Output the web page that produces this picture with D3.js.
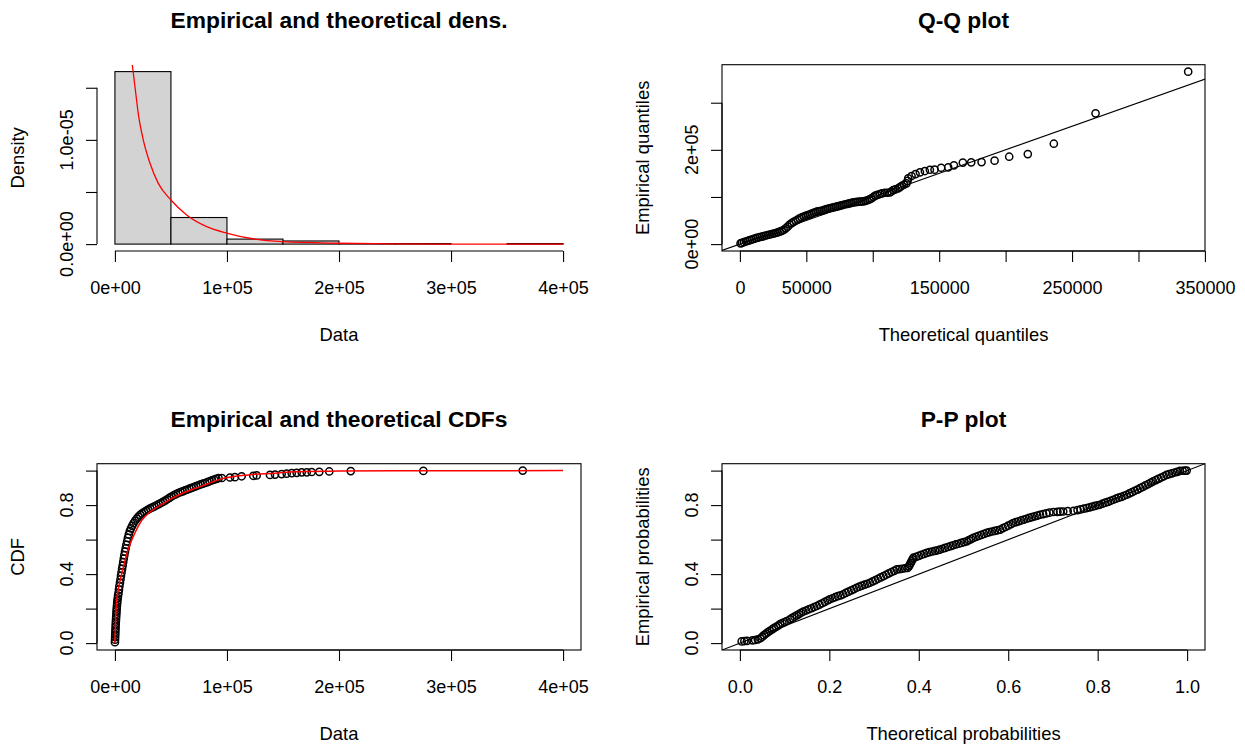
<!DOCTYPE html>
<html>
<head>
<meta charset="utf-8">
<script src="https://cdn.jsdelivr.net/npm/d3@7"></script>
<style>
  body { margin: 0; background: #fff; }
  svg text { font-family: "Liberation Sans", Arial, Helvetica, sans-serif; fill: #000; }
</style>
</head>
<body>
<div id="chart"></div>
<script>
// ---- data ----

// histogram, density scale
const histBreaks = [0, 50000, 100000, 150000, 200000, 250000, 300000, 350000, 400000];
const histDensity = [1.655e-5, 2.55e-6, 4.8e-7, 3.0e-7, 5e-8, 5e-8, 0, 5e-8];

// fitted density (red curve)
const densX = [15500, 17900, 20800, 25300, 31300, 38700, 50000, 64000, 81900, 100600, 120500, 149400, 200000, 250000, 300000, 400000];
const densY = [1.72e-5, 1.51e-5, 1.255e-5, 9.99e-6, 7.75e-6, 5.83e-6, 4.23e-6, 2.79e-6, 1.67e-6, 1.04e-6, 5.6e-7, 2.3e-7, 8e-8, 2e-8, 0, 0];

// Q-Q plot: [theoretical quantile, empirical quantile]
const qqPoints = [
  [500,1500],[1500,2500],[3000,4000],[4500,5500],[6000,7000],[7500,8300],[9000,9700],[10500,11000],
  [12000,12500],[13500,13800],[15000,15000],[16500,15900],[18000,17000],[19500,18200],[21000,19300],
  [22500,20400],[24000,21400],[25500,22400],[27000,23600],[28500,25000],[30000,26500],[31500,28200],
  [33000,30000],[34500,33500],[36000,37000],[37500,41500],[39000,44500],[40500,47000],[42000,49500],
  [43500,52000],[45000,54500],[46500,56500],[48000,58500],[49500,60000],[51000,61500],[52500,62500],
  [54000,64500],[55500,66500],[57000,68000],[58500,69300],[60000,70000],[61500,70700],[63000,72000],
  [64500,73500],[66000,75000],[67500,76000],[69000,77000],[70500,78000],[72000,79000],[73500,80000],
  [75000,81000],[76500,82200],[78000,83500],[79500,84500],[81000,85500],[82500,86300],[84000,87300],
  [85500,88500],[87000,89200],[88500,89600],[90000,90000],[91500,90300],[93000,90800],[94500,91800],
  [96000,93000],[97500,95000],[99000,97000],[100500,100000],[102000,103000],[103500,104500],
  [105400,106200],[107000,107500],[109100,108900],[111000,109000],[112900,109500],[114000,111500],
  [115400,114600],[117000,116000],[119100,118300],[120500,121000],[121900,123800],[123500,126000],
  [125400,128900],[126200,134000],[126700,139500],[129200,144400],[132200,148600],[135500,152200],
  [139200,155000],[143000,157700],[146500,158000],[151500,162000],[156800,162800],[161100,167100],
  [167800,173000],[174100,173500],[181900,174000],[191700,177000],[202700,185400],[216700,191000],
  [236300,213000],[267700,277500],[337400,365800]
];

// empirical CDF points: [data, cumulative probability]
const cdfPoints = [
  [0,0.005],[100,0.02],[200,0.035],[300,0.05],[400,0.065],[500,0.08],[600,0.095],[700,0.11],[850,0.125],
  [1000,0.14],[1150,0.155],[1300,0.17],[1450,0.185],[1600,0.2],[1800,0.215],[2000,0.23],[2200,0.245],
  [2500,0.26],[2800,0.275],[3200,0.29],[3600,0.31],[4000,0.33],[4500,0.35],[5000,0.37],[5400,0.39],
  [5900,0.41],[6400,0.43],[6900,0.45],[7400,0.47],[7900,0.49],[8400,0.51],[9000,0.53],[9600,0.55],
  [10200,0.57],[10900,0.59],[11600,0.61],[12400,0.63],[13300,0.65],[14300,0.665],[15400,0.68],
  [16600,0.695],[18000,0.709],[19500,0.722],[21000,0.733],[22600,0.743],[24300,0.752],[26000,0.76],
  [27800,0.767],[29600,0.774],[31500,0.781],[33400,0.787],[35300,0.793],[37200,0.799],[39100,0.806],
  [41000,0.812],[42900,0.819],[44800,0.826],[46700,0.834],[48600,0.842],[50500,0.85],[52500,0.857],
  [54500,0.864],[56500,0.87],[58500,0.875],[60500,0.88],[62500,0.885],[64500,0.89],[66500,0.895],
  [68500,0.9],[70500,0.905],[72500,0.91],[74500,0.915],[76500,0.92],[78500,0.924],[80500,0.928],
  [82500,0.933],[84500,0.938],[86500,0.943],[88500,0.948],[90500,0.952],[92500,0.956],[95500,0.957],
  [102700,0.96],[107100,0.962],[113100,0.967],[123500,0.97],[126500,0.972],[138400,0.975],[142900,0.977],
  [148800,0.98],[153300,0.982],[157800,0.985],[162200,0.987],[166700,0.99],[171200,0.99],[175600,0.992],
  [182400,0.993],[191300,0.995],[210500,0.997],[275300,0.998],[364000,1.0]
];

// fitted CDF (red curve)
const cdfFitX = [0, 500, 1500, 3000, 4500, 7400, 11900, 17900, 23800, 31300, 41700, 50000, 59500, 77400, 95200, 119000, 142900, 160700, 200000, 250000, 400000];
const cdfFitP = [0, 0.12, 0.244, 0.31, 0.36, 0.437, 0.545, 0.64, 0.71, 0.76, 0.803, 0.836, 0.866, 0.91, 0.952, 0.975, 0.985, 0.994, 0.997, 0.999, 1.0];

// P-P plot: [theoretical probability, empirical probability]
const ppPoints = [
  [0.004,0.010],[0.010,0.012],[0.016,0.013],[0.028,0.016],[0.034,0.018],[0.040,0.022],[0.046,0.028],
  [0.050,0.037],[0.054,0.046],[0.058,0.054],[0.062,0.062],[0.067,0.071],[0.072,0.079],[0.076,0.087],
  [0.081,0.094],[0.086,0.102],[0.090,0.110],[0.095,0.116],[0.100,0.122],[0.105,0.128],[0.112,0.138],
  [0.117,0.146],[0.122,0.153],[0.127,0.161],[0.132,0.168],[0.137,0.176],[0.142,0.183],[0.148,0.189],
  [0.154,0.196],[0.160,0.202],[0.166,0.209],[0.172,0.215],[0.178,0.223],[0.184,0.231],[0.190,0.239],
  [0.196,0.247],[0.201,0.254],[0.207,0.260],[0.213,0.266],[0.219,0.272],[0.225,0.277],[0.231,0.283],
  [0.237,0.291],[0.243,0.298],[0.249,0.306],[0.255,0.313],[0.261,0.321],[0.267,0.327],[0.273,0.333],
  [0.279,0.339],[0.285,0.344],[0.291,0.350],[0.297,0.358],[0.303,0.365],[0.309,0.373],[0.315,0.381],
  [0.321,0.388],[0.327,0.396],[0.333,0.404],[0.339,0.412],[0.345,0.419],[0.351,0.427],[0.357,0.429],
  [0.363,0.431],[0.369,0.434],[0.375,0.436],[0.378,0.445],[0.380,0.455],[0.382,0.465],[0.384,0.475],
  [0.386,0.485],[0.388,0.495],[0.394,0.500],[0.400,0.506],[0.406,0.512],[0.412,0.517],[0.418,0.523],
  [0.424,0.527],[0.430,0.531],[0.436,0.535],[0.442,0.538],[0.447,0.542],[0.453,0.547],[0.459,0.552],
  [0.465,0.557],[0.471,0.562],[0.477,0.567],[0.483,0.572],[0.489,0.576],[0.495,0.581],[0.501,0.585],
  [0.507,0.590],[0.512,0.597],[0.517,0.603],[0.522,0.610],[0.528,0.616],[0.534,0.622],[0.540,0.627],
  [0.546,0.633],[0.552,0.639],[0.558,0.643],[0.564,0.647],[0.570,0.651],[0.576,0.654],[0.582,0.658],
  [0.588,0.666],[0.594,0.673],[0.600,0.681],[0.606,0.689],[0.611,0.696],[0.617,0.701],[0.623,0.706],
  [0.629,0.711],[0.635,0.716],[0.641,0.721],[0.647,0.726],[0.653,0.730],[0.659,0.735],[0.665,0.739],
  [0.671,0.744],[0.678,0.748],[0.685,0.752],[0.692,0.756],[0.701,0.760],[0.710,0.761],[0.716,0.762],
  [0.723,0.763],[0.733,0.765],[0.746,0.767],[0.755,0.771],[0.762,0.775],[0.769,0.779],[0.776,0.783],
  [0.782,0.787],[0.788,0.791],[0.794,0.795],[0.800,0.799],[0.805,0.802],[0.811,0.808],[0.817,0.814],
  [0.823,0.819],[0.829,0.825],[0.835,0.831],[0.841,0.837],[0.847,0.843],[0.853,0.848],[0.859,0.854],
  [0.865,0.860],[0.871,0.868],[0.877,0.875],[0.883,0.883],[0.889,0.890],[0.895,0.898],[0.901,0.906],
  [0.907,0.914],[0.913,0.922],[0.919,0.930],[0.924,0.937],[0.930,0.945],[0.936,0.952],[0.942,0.960],
  [0.948,0.967],[0.954,0.975],[0.960,0.980],[0.966,0.984],[0.972,0.989],[0.978,0.993],[0.984,0.998],
  [0.990,0.999],[0.995,0.9995],[0.999,1.0]
];

// axis ticks and labels (empty label = R dropped it for overlap)
const dataTicks = [0, 100000, 200000, 300000, 400000];
const dataLabels = ['0e+00', '1e+05', '2e+05', '3e+05', '4e+05'];
const densTicks = [0, 5e-6, 1e-5, 1.5e-5];
const densLabels = ['0.0e+00', '', '1.0e-05', ''];
const qqXTicks = [0, 50000, 100000, 150000, 200000, 250000, 300000, 350000];
const qqXLabels = ['0', '50000', '', '150000', '', '250000', '', '350000'];
const qqYTicks = [0, 100000, 200000, 300000];
const qqYLabels = ['0e+00', '', '2e+05', ''];
const probTicks = [0, 0.2, 0.4, 0.6, 0.8, 1.0];
const probLabelsY = ['0.0', '', '0.4', '', '0.8', ''];
const probLabelsX = ['0.0', '0.2', '0.4', '0.6', '0.8', '1.0'];

// ---- drawing ----
const width = 1245, height = 745;
const svg = d3.select('#chart').append('svg')
  .attr('width', width)
  .attr('height', height);

// R extends axis ranges by 4% on each side
function pad4(lo, hi) {
  let r = hi - lo;
  return [lo - 0.04 * r, hi + 0.04 * r];
}

let clipCount = 0;
function makePanel(o) {
  let x = d3.scaleLinear().domain(o.xDom).range([o.left, o.right]);
  let y = d3.scaleLinear().domain(o.yDom).range([o.bottom, o.top]);
  let g = svg.append('g');

  let id = 'clip' + (clipCount++);
  svg.append('clipPath').attr('id', id).append('rect')
    .attr('x', o.left).attr('y', o.top)
    .attr('width', o.right - o.left).attr('height', o.bottom - o.top);
  let plot = g.append('g').attr('clip-path', 'url(#' + id + ')');

  if (o.box) {
    g.append('rect')
      .attr('x', o.left).attr('y', o.top)
      .attr('width', o.right - o.left).attr('height', o.bottom - o.top)
      .attr('fill', 'none').attr('stroke', '#000').attr('stroke-width', 1.1);
  }

  // x axis
  let xa = g.append('g')
    .attr('transform', 'translate(0,' + o.bottom + ')')
    .call(d3.axisBottom(x).tickValues(o.xTicks).tickSize(11).tickPadding(19.5)
      .tickFormat((d, i) => o.xLabels[i]));
  xa.select('.domain').remove();
  xa.attr('font-size', 18).attr('font-family', null);
  xa.selectAll('line').attr('stroke', '#000').attr('stroke-width', 1.1);
  xa.append('line')
    .attr('x1', x(o.xTicks[0])).attr('x2', x(o.xTicks[o.xTicks.length - 1]))
    .attr('stroke', '#000').attr('stroke-width', 1.1);

  // y axis
  let ya = g.append('g')
    .attr('transform', 'translate(' + o.left + ',0)')
    .call(d3.axisLeft(y).tickValues(o.yTicks).tickSize(11).tickFormat(''));
  ya.select('.domain').remove();
  ya.selectAll('line').attr('stroke', '#000').attr('stroke-width', 1.1);
  ya.append('line')
    .attr('y1', y(o.yTicks[0])).attr('y2', y(o.yTicks[o.yTicks.length - 1]))
    .attr('stroke', '#000').attr('stroke-width', 1.1);

  g.selectAll(null)
    .data(o.yTicks.map((v, i) => ({v: v, s: o.yLabels[i]})).filter(d => d.s))
    .enter().append('text')
      .attr('transform', d => 'translate(' + (o.left - 24) + ',' + y(d.v) + ') rotate(-90)')
      .attr('text-anchor', 'middle')
      .attr('font-size', 18)
      .text(d => d.s);

  // title and axis titles
  let cx = (o.left + o.right) / 2, cy = (o.top + o.bottom) / 2;
  g.append('text')
    .attr('x', cx).attr('y', o.top - 36.4)
    .attr('text-anchor', 'middle')
    .attr('font-size', 22.8).attr('font-weight', 'bold')
    .text(o.title);
  g.append('text')
    .attr('x', cx).attr('y', o.bottom + 89.7)
    .attr('text-anchor', 'middle')
    .attr('font-size', 18.4)
    .text(o.xTitle);
  g.append('text')
    .attr('transform', 'translate(' + (o.left - 73) + ',' + cy + ') rotate(-90)')
    .attr('text-anchor', 'middle')
    .attr('font-size', 18.4)
    .text(o.yTitle);

  return {x: x, y: y, plot: plot};
}

function drawPoints(p, pts) {
  p.plot.selectAll(null).data(pts).enter().append('circle')
    .attr('cx', d => p.x(d[0]))
    .attr('cy', d => p.y(d[1]))
    .attr('r', 3.6)
    .attr('fill', 'none')
    .attr('stroke', '#000')
    .attr('stroke-width', 1.5);
}

function drawDiagonal(p) {
  let lo = Math.min(p.x.domain()[0], p.y.domain()[0]);
  let hi = Math.max(p.x.domain()[1], p.y.domain()[1]);
  p.plot.append('line')
    .attr('x1', p.x(lo)).attr('y1', p.y(lo))
    .attr('x2', p.x(hi)).attr('y2', p.y(hi))
    .attr('stroke', '#000').attr('stroke-width', 1.1);
}

const leftCol = {left: 97, right: 581};
const rightCol = {left: 722, right: 1205};
const topRow = {top: 64.7, bottom: 251};
const botRow = {top: 463.7, bottom: 650};

// --- density panel ---
let pDens = makePanel(Object.assign({}, leftCol, topRow, {
  xDom: pad4(0, 400000), yDom: pad4(0, d3.max(histDensity)),
  xTicks: dataTicks, xLabels: dataLabels,
  yTicks: densTicks, yLabels: densLabels,
  title: 'Empirical and theoretical dens.', xTitle: 'Data', yTitle: 'Density'
}));
pDens.plot.selectAll('.bar').data(histDensity).enter().append('rect')
  .attr('class', 'bar')
  .attr('x', (d, i) => pDens.x(histBreaks[i]))
  .attr('width', (d, i) => pDens.x(histBreaks[i + 1]) - pDens.x(histBreaks[i]))
  .attr('y', d => pDens.y(d))
  .attr('height', d => pDens.y(0) - pDens.y(d))
  .attr('fill', '#D3D3D3')
  .attr('stroke', '#000')
  .attr('stroke-width', 1.1);
pDens.plot.append('path')
  .datum(densX.map((v, i) => [v, densY[i]]))
  .attr('fill', 'none').attr('stroke', '#FF0000').attr('stroke-width', 1.3)
  .attr('d', d3.line().x(d => pDens.x(d[0])).y(d => pDens.y(d[1])).curve(d3.curveMonotoneX));

// --- Q-Q panel ---
let pQQ = makePanel(Object.assign({}, rightCol, topRow, {
  box: true,
  xDom: pad4(0, 336600), yDom: pad4(0, 366000),
  xTicks: qqXTicks, xLabels: qqXLabels,
  yTicks: qqYTicks, yLabels: qqYLabels,
  title: 'Q-Q plot', xTitle: 'Theoretical quantiles', yTitle: 'Empirical quantiles'
}));
drawPoints(pQQ, qqPoints);
drawDiagonal(pQQ);

// --- CDF panel ---
let pCdf = makePanel(Object.assign({}, leftCol, botRow, {
  box: true,
  xDom: pad4(0, 400000), yDom: pad4(0, 1),
  xTicks: dataTicks, xLabels: dataLabels,
  yTicks: probTicks, yLabels: probLabelsY,
  title: 'Empirical and theoretical CDFs', xTitle: 'Data', yTitle: 'CDF'
}));
drawPoints(pCdf, cdfPoints);
pCdf.plot.append('path')
  .datum(cdfFitX.map((v, i) => [v, cdfFitP[i]]))
  .attr('fill', 'none').attr('stroke', '#FF0000').attr('stroke-width', 1.5)
  .attr('d', d3.line().x(d => pCdf.x(d[0])).y(d => pCdf.y(d[1])).curve(d3.curveMonotoneX));

// --- P-P panel ---
let pPP = makePanel(Object.assign({}, rightCol, botRow, {
  box: true,
  xDom: pad4(0, 1), yDom: pad4(0, 1),
  xTicks: probTicks, xLabels: probLabelsX,
  yTicks: probTicks, yLabels: probLabelsY,
  title: 'P-P plot', xTitle: 'Theoretical probabilities', yTitle: 'Empirical probabilities'
}));
drawPoints(pPP, ppPoints);
drawDiagonal(pPP);
</script>
</body>
</html>
